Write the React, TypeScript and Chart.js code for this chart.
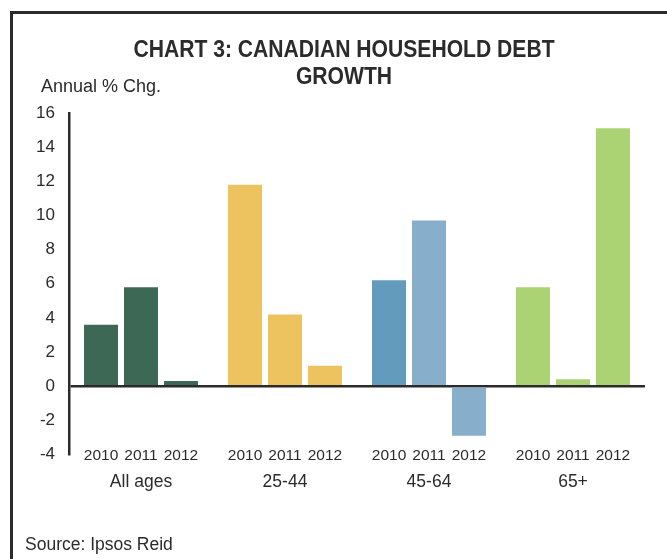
import { useEffect, useRef } from 'react';
import { Chart, registerables } from 'chart.js';

Chart.register(...registerables);

// Age groups along the x axis and the survey years shown within each group
const groups = ['All ages', '25-44', '45-64', '65+'];
const years = ['2010', '2011', '2012'];

// Annual % change in household debt, one array per year (same order as groups)
const growth2010 = [3.6, 11.8, 6.2, 5.8];
const growth2011 = [5.8, 4.2, 9.7, 0.4];
const growth2012 = [0.3, 1.2, -2.9, 15.1];

// Value axis range and step
const yMin = -4;
const yMax = 16;
const yStep = 2;

const titleLines = ['CHART 3: CANADIAN HOUSEHOLD DEBT', 'GROWTH'];
const yAxisCaption = 'Annual % Chg.';
const sourceNote = 'Source: Ipsos Reid';

// Bar fills per group, for each year
const fill2010 = ['#3e6856', '#edc35f', '#629bbb', '#abd273'];
const fill2011 = ['#3e6856', '#edc35f', '#87aecb', '#abd273'];
const fill2012 = ['#3e6856', '#edc35f', '#87aecb', '#abd273'];

const FONT = "'Liberation Sans', Arial, sans-serif";
const INK = '#2b2b2b';

// Bold lettering (the title) is set narrow: squeeze it horizontally on this context
function condenseBold(ctx: CanvasRenderingContext2D) {
  const draw = ctx.fillText.bind(ctx);
  (ctx as any).fillText = (text: string, x: number, y: number) => {
    if (!/bold/.test(ctx.font)) {
      draw(text, x, y);
      return;
    }
    ctx.save();
    ctx.translate(x, y);
    ctx.scale(0.88, 1);
    draw(text, 0, 0);
    ctx.restore();
  };
}

// Draws the year under each bar, the axis caption and the source note
const annotations = {
  id: 'annotations',
  afterDraw(chart: any) {
    const { ctx, chartArea } = chart;
    ctx.save();
    ctx.fillStyle = INK;
    ctx.font = `15.5px ${FONT}`;
    ctx.textAlign = 'center';
    ctx.textBaseline = 'middle';
    chart.data.datasets.forEach((ds: any, i: number) => {
      const meta = chart.getDatasetMeta(i);
      meta.data.forEach((bar: any) => {
        ctx.fillText(ds.label, bar.x, chartArea.bottom + 1);
      });
    });
    ctx.textAlign = 'left';
    ctx.font = `18px ${FONT}`;
    ctx.fillText(yAxisCaption, chartArea.left - 28, chartArea.top - 26);
    ctx.font = `17.5px ${FONT}`;
    ctx.fillText(sourceNote, 13, chart.height - 14);
    ctx.restore();
  },
};

export default function App() {
  const canvasRef = useRef<HTMLCanvasElement | null>(null);

  useEffect(() => {
    const canvas = canvasRef.current;
    if (!canvas) return;
    const context = canvas.getContext('2d');
    if (context) condenseBold(context);

    const datasets = [growth2010, growth2011, growth2012].map((values, i) => ({
      label: years[i],
      data: values,
      backgroundColor: [fill2010, fill2011, fill2012][i],
      borderWidth: 0,
      categoryPercentage: 0.833,
      barPercentage: 0.85,
    }));

    const chart = new Chart(canvas, {
      type: 'bar',
      data: { labels: groups, datasets },
      plugins: [annotations],
      options: {
        responsive: false,
        animation: false,
        devicePixelRatio: 1,
        layout: { padding: 0 },
        plugins: {
          legend: { display: false },
          tooltip: { enabled: false },
          title: {
            display: true,
            text: titleLines,
            color: INK,
            font: { family: FONT, size: 24, weight: 'bold', lineHeight: 1.125 },
            padding: { top: 23, bottom: 22 },
          },
        },
        scales: {
          x: {
            grid: { display: false, drawTicks: false },
            border: { display: false },
            ticks: { color: INK, font: { family: FONT, size: 17.5 }, padding: 17.5 },
            afterFit(scale: any) {
              scale.height = 104.5;
            },
          },
          y: {
            min: yMin,
            max: yMax,
            ticks: { stepSize: yStep, color: INK, font: { family: FONT, size: 17 }, padding: 14 },
            grid: {
              drawTicks: false,
              color: (c: any) => (c.tick && c.tick.value === 0 ? INK : 'rgba(0,0,0,0)'),
              lineWidth: 2.5,
            },
            border: { display: true, color: INK, width: 2.5 },
            afterFit(scale: any) {
              scale.width = 57;
            },
          },
          // blank margin on the right of the plot
          yRight: {
            position: 'right',
            display: true,
            ticks: { display: false },
            grid: { display: false, drawTicks: false },
            border: { display: false },
            afterFit(scale: any) {
              scale.width = 31;
            },
          },
        },
      },
    });
    return () => chart.destroy();
  }, []);

  return (
    <div
      style={{
        position: 'fixed',
        left: 0,
        top: 0,
        width: 667,
        height: 559,
        overflow: 'hidden',
        background: '#ffffff',
      }}
    >
      <div
        style={{
          position: 'absolute',
          left: 10,
          top: 11,
          width: 700,
          height: 600,
          border: `3px solid ${INK}`,
          boxSizing: 'border-box',
        }}
      />
      <canvas
        ref={canvasRef}
        width={664}
        height={545}
        style={{ position: 'absolute', left: 12, top: 14, width: 664, height: 545 }}
      />
    </div>
  );
}
